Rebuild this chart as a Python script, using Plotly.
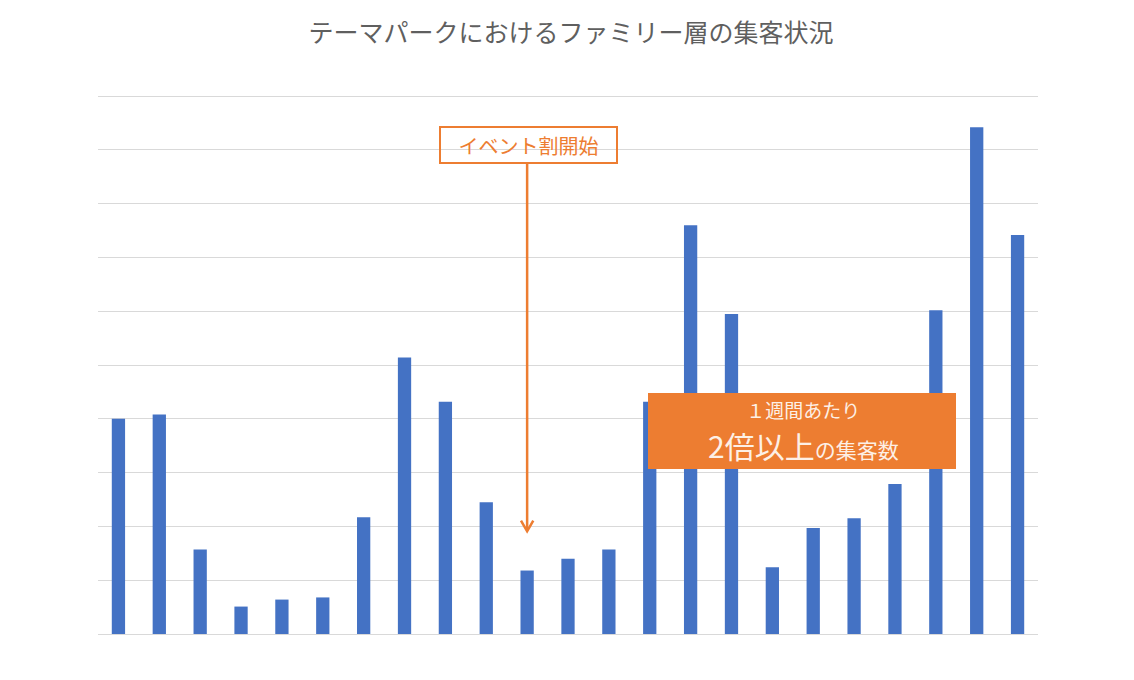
import plotly.graph_objects as go

# Data (unit = gridline steps)
weeks = list(range(1, 24))
visitors = [4.00, 4.08, 1.57, 0.51, 0.64, 0.68, 2.17, 5.14, 4.32, 2.45, 1.18, 1.40,
            1.57, 4.32, 7.60, 5.95, 1.24, 1.97, 2.15, 2.79, 6.02, 9.42, 7.42]
positions = list(range(len(weeks)))

title_text = "テーマパークにおけるファミリー層の集客状況"
event_label = "イベント割開始"
event_index = 10
box_line1 = "１週間あたり"
box_big = "2倍以上"
box_small = "の集客数"

FONT = "Noto Sans CJK JP"
ORANGE = "#ED7D31"
BLUE = "#4472C4"
GRID = "#D9D9D9"
CREAM = "#FDF0E6"

# page body has an 8px margin; figure is sized so the plot area lands where the reference has it
W, H = 1126, 672
OFF = 8
YMAX = 10.04
PL, PR, PB = 98, 1038, 634          # plot area in page pixels
PT = PB - 538 * YMAX / 10            # so that y=10 sits on pixel 96


def px(xp):
    return (xp - PL) / (PR - PL)


def py(yp):
    return (PB - yp) / (PB - PT)


fig = go.Figure(go.Bar(
    x=positions, y=visitors, marker=dict(color=BLUE, line=dict(width=0)),
    hoverinfo="y", name="集客数",
))

fig.update_layout(
    width=W, height=H,
    margin=dict(l=PL - OFF, r=W + OFF - PR, t=PT - OFF, b=H + OFF - PB, pad=0),
    paper_bgcolor="white", plot_bgcolor="white",
    bargap=0.675, showlegend=False,
    font=dict(family=FONT, color="#595959"),
    title=dict(text=title_text, x=0.5, xanchor="center", y=1 - (33 - OFF) / H, yanchor="middle",
               font=dict(family=FONT, size=25, color="#5f5f5f")),
    xaxis=dict(range=[-0.5, len(weeks) - 0.5], showticklabels=False, showgrid=False,
               zeroline=False, showline=False, ticks=""),
    yaxis=dict(range=[0, YMAX], dtick=1, showticklabels=False, showgrid=True, gridcolor=GRID,
               gridwidth=1, zeroline=True, zerolinecolor=GRID, zerolinewidth=1,
               showline=False, ticks=""),
)

# Event label box
fig.add_annotation(xref="paper", yref="paper", x=px(528.5), y=py(144.5), xanchor="center", yanchor="middle",
                   text=event_label, showarrow=False, font=dict(family=FONT, size=20, color=ORANGE),
                   bordercolor=ORANGE, borderwidth=2, borderpad=3, bgcolor="rgba(0,0,0,0)",
                   width=169, height=28)

# Arrow shaft + open chevron head
tip_y = 1.91
fig.add_shape(type="line", xref="x", yref="y", x0=event_index, x1=event_index, y0=8.77, y1=tip_y + 0.02,
              line=dict(color=ORANGE, width=2.5))
fig.add_shape(type="path", xref="x", yref="y",
              path=f"M {event_index - 0.15},{tip_y + 0.2} L {event_index},{tip_y} L {event_index + 0.15},{tip_y + 0.2}",
              line=dict(color=ORANGE, width=2.5))

# Orange callout box
fig.add_shape(type="rect", xref="paper", yref="paper", x0=px(648), x1=px(956), y0=py(469), y1=py(393),
              fillcolor=ORANGE, line=dict(width=0), layer="above")
callout = (f"<span style='font-size:19px'>{box_line1}</span><br>"
           f"<span style='font-size:30px'>{box_big}</span><span style='font-size:21px'>{box_small}</span>")
fig.add_annotation(xref="paper", yref="paper", x=px(803), y=py(431), xanchor="center", yanchor="middle",
                   align="center", text=callout, showarrow=False,
                   font=dict(family=FONT, size=31, color=CREAM))

fig.write_html("out.html")
